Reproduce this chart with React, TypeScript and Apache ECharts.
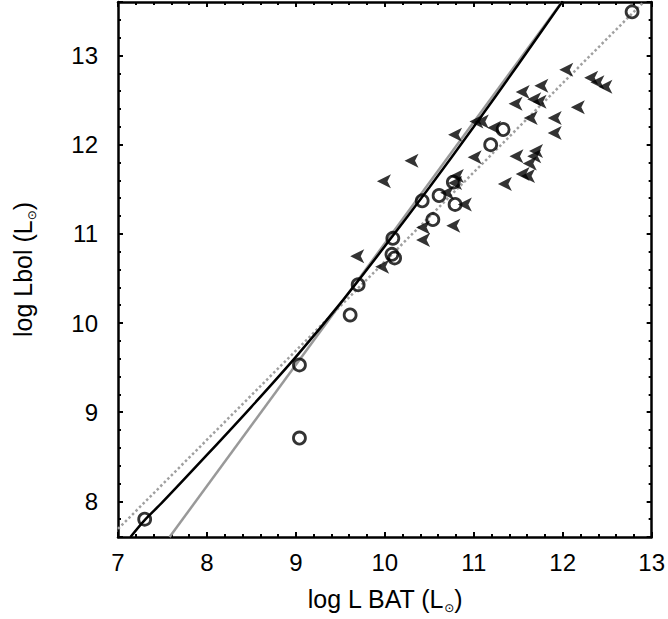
import React, { useEffect, useRef } from 'react';
import * as echarts from 'echarts';

// Axis ranges / ticks
const xMin = 7;
const xMax = 13;
const yMin = 7.6;
const yMax = 13.6;

// Detections (open circles)
const circleX = [7.30, 9.04, 9.04, 9.61, 9.70, 10.09, 10.08, 10.11, 10.42, 10.54, 10.61, 10.77, 10.79, 11.19, 11.33, 12.78];
const circleY = [7.80, 9.53, 8.71, 10.09, 10.43, 10.95, 10.77, 10.73, 11.37, 11.16, 11.43, 11.58, 11.33, 12.00, 12.17, 13.49];

// Upper limits (left-pointing arrowheads)
const arrowX = [9.99, 10.30, 9.69, 9.97, 10.43, 10.43, 10.70, 10.77, 10.90, 10.81, 10.79, 11.01, 10.79, 11.03, 11.09, 11.23, 11.47, 11.55, 11.76, 11.68, 11.74, 11.64, 11.91, 11.91, 12.04, 12.32, 12.39, 12.48, 12.17, 11.48, 11.70, 11.68, 11.63, 11.55, 11.61, 11.35];
const arrowY = [11.59, 11.82, 10.75, 10.63, 11.07, 10.93, 11.46, 11.09, 11.33, 11.65, 11.57, 11.86, 12.11, 12.26, 12.26, 12.19, 12.46, 12.59, 12.66, 12.51, 12.48, 12.30, 12.30, 12.13, 12.84, 12.75, 12.70, 12.65, 12.42, 11.87, 11.93, 11.87, 11.79, 11.67, 11.65, 11.56];

// Relations
const curveX = [7.14, 7.3, 7.5, 8.0, 8.5, 9.0, 9.5, 10.0, 10.5, 11.0, 11.5, 12.0];
const curveY = [7.60, 7.79, 7.99, 8.52, 9.06, 9.62, 10.22, 10.86, 11.52, 12.20, 12.90, 13.61];
const grayX = [7.58, 11.99];
const grayY = [7.60, 13.60];
const dottedX = [7.0, 12.91];
const dottedY = [7.69, 13.60];

const zip = (a: number[], b: number[]) => a.map((v, i) => [v, b[i]]);

const FONT = 'Liberation Sans';
const arrowPath = 'path://M0,7 L14,0 L10.5,7 L14,14 Z';

export default function App() {
  const ref = useRef<HTMLDivElement>(null);
  useEffect(() => {
    if (!ref.current) return;
    const chart = echarts.init(ref.current, null, { renderer: 'svg' });
    const axisLine = { show: true, onZero: false, lineStyle: { color: '#000', width: 2.5 } };
    const axisTick = { show: true, inside: true, length: 5, lineStyle: { color: '#000', width: 2 } };
    const minorTick = { show: true, splitNumber: 5, length: 3, lineStyle: { color: '#000', width: 2 } };
    const intLabel = (v: number) => (Math.abs(v - Math.round(v)) < 1e-6 ? String(Math.round(v)) : '');
    const nameStyle = {
      color: '#000', fontFamily: FONT, fontSize: 25, lineHeight: 30,
      rich: { s: { fontSize: 12, lineHeight: 12, verticalAlign: 'bottom', fontFamily: 'DejaVu Sans', color: '#000' } },
    };
    chart.setOption({
      animation: false,
      backgroundColor: '#fff',
      grid: { left: 116, top: 2, width: 537, height: 538, containLabel: false },
      xAxis: [
        {
          type: 'value', min: xMin, max: xMax, interval: 1, position: 'bottom',
          axisLine, axisTick, minorTick: { ...minorTick },
          splitLine: { show: false },
          axisLabel: { color: '#000', fontFamily: FONT, fontSize: 24, margin: 13, formatter: intLabel },
          name: 'log L BAT (L{s|⊙})', nameLocation: 'middle', nameGap: 47,
          nameTextStyle: nameStyle,
        },
        {
          type: 'value', min: xMin, max: xMax, interval: 1, position: 'top',
          axisLine, axisTick, minorTick: { ...minorTick },
          splitLine: { show: false }, axisLabel: { show: false },
        },
      ],
      yAxis: [
        {
          type: 'value', min: yMin, max: yMax, splitNumber: 6, position: 'left',
          axisLine, axisTick, minorTick: { ...minorTick },
          splitLine: { show: false },
          axisLabel: { color: '#000', fontFamily: FONT, fontSize: 24, margin: 20, formatter: intLabel, showMinLabel: false, showMaxLabel: false },
          name: 'log Lbol (L{s|⊙})', nameLocation: 'middle', nameGap: 80, nameRotate: 90,
          nameTextStyle: nameStyle,
        },
        {
          type: 'value', min: yMin, max: yMax, splitNumber: 6, position: 'right',
          axisLine, axisTick, minorTick: { ...minorTick },
          splitLine: { show: false }, axisLabel: { show: false },
        },
      ],
      series: [
        {
          type: 'line', data: zip(dottedX, dottedY), symbol: 'none', z: 1, clip: true,
          lineStyle: { color: '#a0a0a0', width: 2.5, type: [2.5, 2.5] },
        },
        {
          type: 'line', data: zip(grayX, grayY), symbol: 'none', z: 2, clip: true,
          lineStyle: { color: '#999', width: 2.5 },
        },
        {
          type: 'line', data: zip(curveX, curveY), symbol: 'none', z: 3, clip: true, smooth: 0.3,
          lineStyle: { color: '#000', width: 2.5 },
        },
        {
          type: 'scatter', data: zip(arrowX, arrowY), symbol: arrowPath, symbolSize: [14, 14], z: 4,
          itemStyle: { color: '#000' },
        },
        {
          type: 'scatter', data: zip(circleX, circleY), symbol: 'circle', symbolSize: 12, z: 5,
          itemStyle: { color: 'rgba(255,255,255,0)', borderColor: '#000', borderWidth: 2.8 },
        },
      ],
    });
    return () => chart.dispose();
  }, []);
  return <div ref={ref} style={{ position: 'fixed', left: 0, top: 0, width: 668, height: 619, background: '#fff' }} />;
}
